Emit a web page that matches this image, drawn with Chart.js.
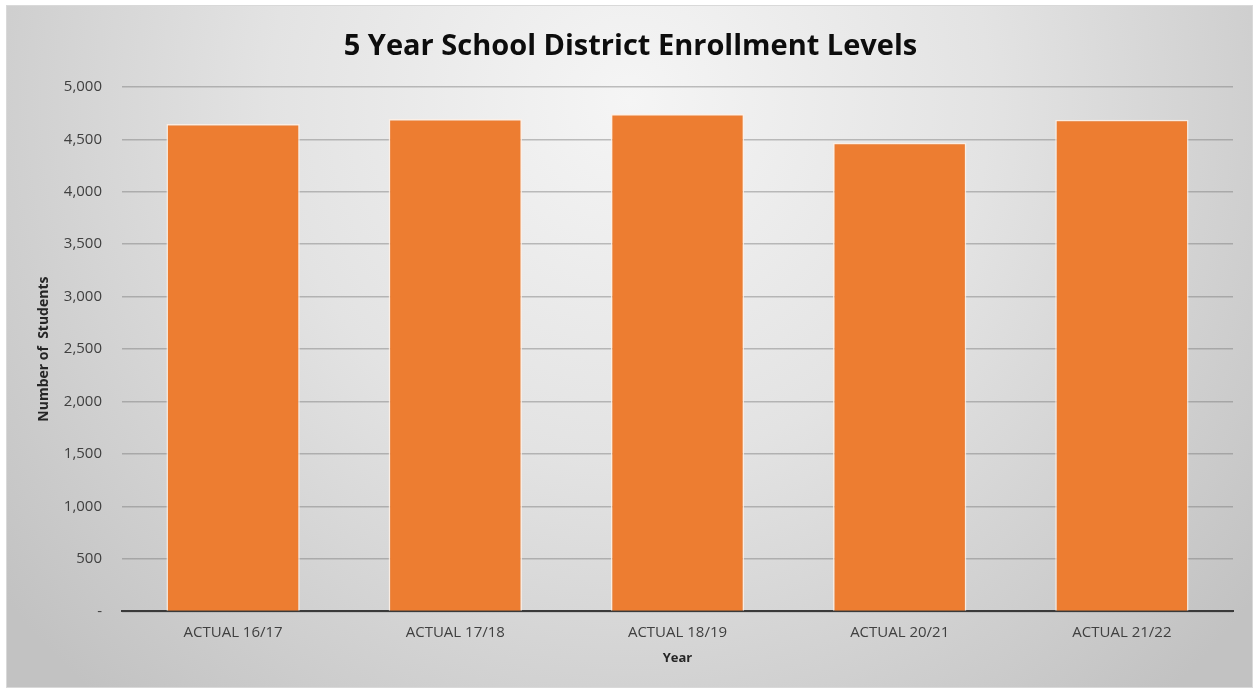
<!DOCTYPE html>
<html>
<head>
<meta charset="utf-8">
<script src="https://cdn.jsdelivr.net/npm/chart.js@4.4.1/dist/chart.umd.min.js"></script>
<style>
  html, body { margin: 0; padding: 0; background: #fff; }
  canvas { display: block; }
</style>
</head>
<body>
<canvas id="c" width="1253" height="690"></canvas>
<script>
// values
var years = ["ACTUAL 16/17", "ACTUAL 17/18", "ACTUAL 18/19", "ACTUAL 20/21", "ACTUAL 21/22"];
var students = [4646, 4693, 4741, 4466, 4687];
var yMin = 0, yMax = 5000, yStep = 500;

var chartTitle = "5 Year School District Enrollment Levels";
var xTitle = "Year";
var yTitle = "Number of  Students";

// grey radial backdrop with a thin frame, like the office chart area
var backdrop = {
  id: "backdrop",
  beforeDraw: function(chart) {
    var c = chart.ctx;
    var x0 = 6, y0 = 5, x1 = 1253, y1 = 688;
    c.save();
    var g = c.createRadialGradient(630, 100, 0, 630, 100, 800);
    g.addColorStop(0, "#f5f5f5");
    g.addColorStop(0.45, "#e3e3e3");
    g.addColorStop(1, "#c2c2c2");
    c.fillStyle = g;
    c.fillRect(x0, y0, x1 - x0, y1 - y0);
    c.strokeStyle = "#d9d9d9";
    c.lineWidth = 1;
    c.strokeRect(x0 + 0.5, y0 + 0.5, x1 - x0 - 1, y1 - y0 - 1);
    c.restore();
  }
};

new Chart(document.getElementById("c"), {
  type: "bar",
  data: {
    labels: years,
    datasets: [{
      data: students,
      backgroundColor: "#ED7D31",
      borderColor: "rgba(255,240,228,0.85)",
      borderWidth: 1.5,
      categoryPercentage: 1,
      barPercentage: 0.6
    }]
  },
  options: {
    responsive: false,
    animation: false,
    layout: { padding: { left: 28, right: 20, top: 0, bottom: 20 } },
    plugins: {
      legend: { display: false },
      tooltip: { enabled: false },
      title: {
        display: true,
        text: chartTitle,
        color: "#0d0d0d",
        font: { family: "'Open Sans', sans-serif", size: 29, weight: "bold" },
        padding: { top: 29, bottom: 23 }
      }
    },
    scales: {
      x: {
        grid: { display: false, drawTicks: false },
        border: { display: true, color: "#3a3a3a", width: 2 },
        ticks: {
          color: "#404040",
          padding: 12,
          font: { family: "'Open Sans', sans-serif", size: 15 }
        },
        title: {
          display: true,
          text: xTitle,
          color: "#262626",
          padding: { top: -3, bottom: 4 },
          font: { family: "'Open Sans', sans-serif", size: 13, weight: "bold" }
        }
      },
      y: {
        min: yMin,
        max: yMax,
        afterFit: function(s) { s.width = 94; },
        grid: { color: "rgba(120,120,120,0.45)", lineWidth: 1.5, drawTicks: false },
        border: { display: false },
        ticks: {
          stepSize: yStep,
          color: "#404040",
          padding: 20,
          font: { family: "'Open Sans', sans-serif", size: 15 },
          callback: function(v) { return v === 0 ? "-" : v.toLocaleString("en-US"); }
        },
        title: {
          display: true,
          text: yTitle,
          color: "#262626",
          padding: { top: 8, bottom: 4 },
          font: { family: "'Open Sans', sans-serif", size: 14, weight: "bold" }
        }
      }
    }
  },
  plugins: [backdrop]
});
</script>
</body>
</html>
